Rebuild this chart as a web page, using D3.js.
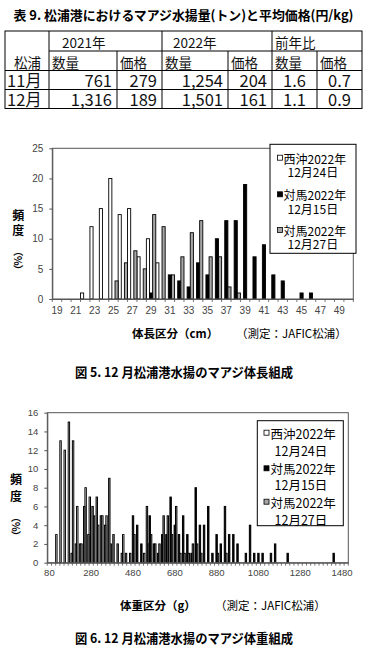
<!DOCTYPE html>
<html>
<head>
<meta charset="utf-8">
<script src="https://cdn.jsdelivr.net/npm/d3@7"></script>
<style>
  body { margin: 0; background: #fff; }
  text { font-family: "Noto Sans CJK JP", sans-serif; }
  .tick text { font-family: "Liberation Sans", Arial, sans-serif; fill: #444; }
</style>
</head>
<body>
<svg id="fig" width="370" height="654"></svg>
<script>
// ---- table data ----
const tableYears = ["2021年", "2022年", "前年比"];
const tableCols = ["数量", "価格", "数量", "価格", "数量", "価格"];
const tableMonths = ["11月", "12月"];
const tableValues = [
  ["761", "279", "1,254", "204", "1.6", "0.7"],
  ["1,316", "189", "1,501", "161", "1.1", "0.9"]
];

// ---- series names ----
const seriesNames = [
  ["西沖2022年", "12月24日"],
  ["対馬2022年", "12月15日"],
  ["対馬2022年", "12月27日"]
];

// ---- fig 5: length (cm) ----
const lenCats = [19,20,21,22,23,24,25,26,27,28,29,30,31,32,33,34,35,36,37,38,39,40,41,42,43,44,45,46,47,48,49,50];
const lenLabels = [19,21,23,25,27,29,31,33,35,37,39,41,43,45,47,49];
const lenTicks = [0,5,10,15,20,25];
const lenNishioki = [0,0,0,1,12,15,20,14,15,7,10,6,0,0,0,0,0,0,0,0,0,0,0,0,0,0,0,0,0,0,0,0];
const lenTsushima15 = [0,0,0,0,0,0,0,0,0,0,1,0,4,3,2,6,4,10,13,13,19,7,9,4,3,0,1,1,0,0,0,0];
const lenTsushima27 = [0,0,0,0,0,0,3,6,8,5,14,12,4,7,11,13,7,7,2,1,0,0,0,0,0,0,0,0,0,0,0,0];

// ---- fig 6: weight (g) ----
const wCats = [80,100,120,140,160,180,200,220,240,260,
  280,300,320,340,360,380,400,420,440,460,
  480,500,520,540,560,580,600,620,640,660,
  680,700,720,740,760,780,800,820,840,860,
  880,900,920,940,960,980,1000,1020,1040,1060,
  1080,1100,1120,1140,1160,1180,1200,1220,1240,1260,
  1280,1300,1320,1340,1360,1380,1400,1420,1440,1460,
  1480,1500];
const wLabels = [80,280,480,680,880,1080,1280,1480];
const wTicks = [0,2,4,6,8,10,12,14,16];
const wNishioki = [
  0,0,3,13,12,15,13,6,2,8,
  7,5,4,5,5,2,0,0,3,0,
  0,0,0,1,2,0,0,0,0,0,
  0,0,0,0,0,0,0,0,0,0,
  0,0,0,0,0,0,0,0,0,0,
  0,0,0,0,0,0,0,0,0,0,
  0,0,0,0,0,0,0,0,0,0,
  0,0];
const wTsushima15 = [
  0,0,0,0,0,0,0,0,0,0,
  0,0,0,0,0,0,0,0,0,0,
  5,4,2,0,5,2,1,3,3,7,
  4,3,5,3,1,8,4,4,6,1,
  3,2,6,3,3,2,0,1,4,1,
  1,1,0,1,2,0,0,1,0,0,
  0,0,0,0,0,0,0,0,1,0,
  0,0];
const wTsushima27 = [
  0,0,0,0,0,1,2,2,6,3,
  6,7,5,4,9,3,2,1,1,1,
  3,0,0,6,3,2,2,5,5,3,
  6,1,1,1,2,2,1,0,0,0,
  1,0,1,0,0,0,0,0,0,0,
  0,0,0,0,0,0,0,0,0,0,
  0,0,0,0,0,0,0,0,0,0,
  0,0];

const seriesFill = ["#ffffff", "#000000", "#a6a6a6"];

const svg = d3.select("#fig");

// ---- title ----
svg.append("text")
  .attr("x", 183.5).attr("y", 20)
  .attr("text-anchor", "middle")
  .attr("font-size", 13).attr("font-weight", "bold")
  .attr("textLength", 340).attr("lengthAdjust", "spacingAndGlyphs")
  .text("表 9. 松浦港におけるマアジ水揚量(トン)と平均価格(円/kg)");

// ---- table ----
const colX = [5, 49, 117, 162, 228, 272, 317, 362];
const rowY = [31, 51, 70.5, 89.5, 108.5];
const tbl = svg.append("g").attr("stroke", "#000").attr("stroke-width", 1);
tbl.append("rect").attr("x", colX[0]).attr("y", rowY[0])
  .attr("width", colX[7] - colX[0]).attr("height", rowY[4] - rowY[0]).attr("fill", "none");
tbl.append("line").attr("x1", colX[1]).attr("x2", colX[7]).attr("y1", rowY[1]).attr("y2", rowY[1]);
[2, 3].forEach(r => tbl.append("line").attr("x1", colX[0]).attr("x2", colX[7]).attr("y1", rowY[r]).attr("y2", rowY[r]));
[1, 3, 5].forEach(c => tbl.append("line").attr("x1", colX[c]).attr("x2", colX[c]).attr("y1", rowY[0]).attr("y2", rowY[4]));
[2, 4, 6].forEach(c => tbl.append("line").attr("x1", colX[c]).attr("x2", colX[c]).attr("y1", rowY[1]).attr("y2", rowY[4]));

const tt = svg.append("g").attr("fill", "#111");
tableYears.forEach((t, i) => {
  tt.append("text").attr("x", [62, 173, 275][i]).attr("y", 41.5)
    .attr("dominant-baseline", "central").attr("font-size", 13.5).text(t);
});
tt.append("text").attr("x", 14).attr("y", 61.5).attr("dominant-baseline", "central")
  .attr("font-size", 13.5).text("松浦");
tableCols.forEach((t, i) => {
  tt.append("text").attr("x", colX[i + 1] + 3).attr("y", 61.5)
    .attr("dominant-baseline", "central").attr("font-size", 13.5).text(t);
});
tableMonths.forEach((m, r) => {
  const cy = (rowY[r + 2] + rowY[r + 3]) / 2;
  tt.append("text").attr("x", 7).attr("y", cy).attr("dominant-baseline", "central")
    .attr("font-size", 16.5).text(m);
  tableValues[r].forEach((v, i) => {
    const centered = i >= 4;
    tt.append("text")
      .attr("x", centered ? (colX[i + 1] + colX[i + 2]) / 2 : colX[i + 2] - 5)
      .attr("y", cy).attr("dominant-baseline", "central")
      .attr("text-anchor", centered ? "middle" : "end")
      .attr("font-size", 16.5).text(v);
  });
});

// ---- chart helper ----
function drawChart(cfg) {
  const g = svg.append("g");
  const x = d3.scaleBand().domain(cfg.cats).range([cfg.left, cfg.right]).padding(0);
  const sub = d3.scaleBand().domain([0, 1, 2]).range([0, x.bandwidth()]).padding(0);
  const y = d3.scaleLinear().domain([0, cfg.ymax]).range([cfg.bottom, cfg.top]);

  cfg.series.forEach((vals, s) => {
    g.append("g").selectAll("rect")
      .data(cfg.cats.map((c, i) => ({ c: c, v: vals[i] })).filter(d => d.v > 0))
      .enter().append("rect")
      .attr("x", d => x(d.c) + sub(s))
      .attr("y", d => y(d.v))
      .attr("width", sub.bandwidth())
      .attr("height", d => y(0) - y(d.v))
      .attr("fill", seriesFill[s])
      .attr("stroke", "#000")
      .attr("stroke-width", cfg.barStroke);
  });

  // frame
  g.append("rect")
    .attr("x", cfg.left).attr("y", cfg.top)
    .attr("width", cfg.right - cfg.left).attr("height", cfg.bottom - cfg.top)
    .attr("fill", "none").attr("stroke", "#555").attr("stroke-width", 1);

  const ya = g.append("g").attr("transform", "translate(" + cfg.left + ",0)")
    .call(d3.axisLeft(y).tickValues(cfg.yticks).tickSize(3).tickSizeOuter(0).tickPadding(6));
  ya.select(".domain").attr("stroke", "#555");
  ya.selectAll(".tick line").attr("stroke", "#555");
  ya.selectAll(".tick text").attr("font-size", cfg.fontSize);

  const xa = g.append("g").attr("transform", "translate(0," + cfg.bottom + ")")
    .call(d3.axisBottom(x).tickValues(cfg.xlabels).tickSize(0).tickPadding(cfg.xpad));
  xa.select(".domain").attr("stroke", "#555");
  xa.selectAll(".tick text").attr("font-size", cfg.fontSize);

  // ticks between categories
  g.append("g").selectAll("line")
    .data(cfg.cats.map(c => x(c)).concat([cfg.right]))
    .enter().append("line")
    .attr("x1", d => d).attr("x2", d => d)
    .attr("y1", cfg.bottom).attr("y2", cfg.bottom + 3)
    .attr("stroke", "#555").attr("stroke-width", 0.8);

  // legend
  const lg = g.append("g");
  lg.append("rect")
    .attr("x", cfg.legend.x0).attr("y", cfg.legend.y0)
    .attr("width", cfg.legend.x1 - cfg.legend.x0).attr("height", cfg.legend.y1 - cfg.legend.y0)
    .attr("fill", "#fff").attr("stroke", "#000").attr("stroke-width", 1);
  seriesNames.forEach((nm, s) => {
    const y1 = cfg.legend.lines[s * 2], y2 = cfg.legend.lines[s * 2 + 1];
    lg.append("rect")
      .attr("x", cfg.legend.mx - 2.5).attr("y", y1 - 2.5)
      .attr("width", 5).attr("height", 5)
      .attr("fill", seriesFill[s]).attr("stroke", "#000").attr("stroke-width", 0.8);
    const t = lg.append("text").attr("font-size", cfg.legend.fs).attr("dominant-baseline", "central");
    t.append("tspan").attr("x", cfg.legend.tx).attr("y", y1).text(nm[0]);
    t.append("tspan").attr("x", cfg.legend.tx + 4).attr("y", y2).text(nm[1]);
  });

  // y title (vertical writing)
  const yt = g.append("g").attr("font-weight", "bold");
  yt.append("text").attr("x", cfg.ytitleX).attr("y", cfg.ytitle.y1)
    .style("writing-mode", "vertical-rl")
    .attr("font-size", 12).attr("letter-spacing", cfg.ytitle.ls)
    .text("頻度");
  yt.append("text").attr("x", cfg.ytitleX).attr("y", cfg.ytitle.y2)
    .style("writing-mode", "vertical-rl")
    .attr("font-size", 10)
    .text("（%）");

  // x title
  g.append("text").attr("x", cfg.xtitle.x).attr("y", cfg.xtitle.y)
    .attr("dominant-baseline", "central").attr("font-size", 11.5).attr("font-weight", "bold")
    .text(cfg.xtitle.a);
  g.append("text").attr("x", cfg.xtitle.x2).attr("y", cfg.xtitle.y)
    .attr("dominant-baseline", "central").attr("font-size", 11.5)
    .text("（測定：JAFIC松浦）");

  // caption
  g.append("text").attr("x", 184).attr("y", cfg.caption.y)
    .attr("text-anchor", "middle").attr("dominant-baseline", "central")
    .attr("font-size", 13).attr("font-weight", "bold")
    .attr("textLength", 218).attr("lengthAdjust", "spacingAndGlyphs")
    .text(cfg.caption.t);
}

drawChart({
  cats: lenCats, series: [lenNishioki, lenTsushima15, lenTsushima27],
  left: 52.3, right: 353.3, top: 148.3, bottom: 299,
  ymax: 25, yticks: lenTicks, xlabels: lenLabels, xpad: 8, fontSize: 10, barStroke: 0.9,
  legend: { x0: 270, x1: 356, y0: 144.3, y1: 253.3, mx: 280, tx: 283.5, fs: 12,
            lines: [157.7, 171, 194.3, 207.7, 230, 243.3] },
  ytitleX: 18.3,
  ytitle: { y1: 209, ls: 3, y2: 246 },
  xtitle: { a: "体長区分（cm）", x: 132, x2: 236, y: 333 },
  caption: { t: "図 5. 12 月松浦港水揚のマアジ体長組成", y: 371 }
});

drawChart({
  cats: wCats, series: [wNishioki, wTsushima15, wTsushima27],
  left: 47.3, right: 348.3, top: 412.7, bottom: 562.7,
  ymax: 16, yticks: wTicks, xlabels: wLabels, xpad: 7, fontSize: 9.5, barStroke: 1,
  legend: { x0: 257.3, x1: 343.3, y0: 420.7, y1: 525.7, mx: 266.5, tx: 270.5, fs: 12.5,
            lines: [432.7, 450, 468.3, 484.3, 501.7, 519] },
  ytitleX: 16,
  ytitle: { y1: 473, ls: 5, y2: 512 },
  xtitle: { a: "体重区分（g）", x: 120, x2: 215, y: 605 },
  caption: { t: "図 6. 12 月松浦港水揚のマアジ体重組成", y: 637 }
});
</script>
</body>
</html>
